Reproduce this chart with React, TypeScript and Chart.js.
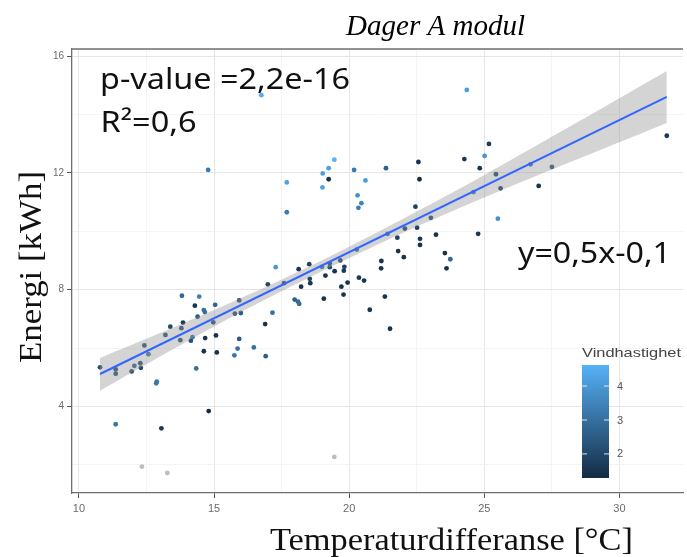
import React, { useEffect, useRef } from 'react';
import { Chart, registerables } from 'chart.js';

Chart.register(...registerables);

// ---- Data ----
const tempDiff = [
  16.75, 14.78, 17.69, 17.69, 24.35, 19.02, 19.24, 19.45, 19.24, 19.01,
  20.18, 20.6, 20.31, 20.45, 20.34, 21.36, 22.56, 22.6, 22.45, 24.26,
  25.17, 25.01, 24.83, 25.43, 25.6, 24.6, 23.02, 22.06, 22.51, 21.42,
  21.78, 22.62, 22.62, 23.21, 24.77, 25.5, 26.71, 27.5, 27.01, 31.75,
  23.54, 23.74, 23.6, 21.81, 22.02, 21.19, 21.18, 20.28, 19.67, 19.82,
  19.8, 19.46, 19.28, 19.28, 18.99, 19.12, 18.52, 18.54, 18.56, 18.13,
  18.22, 17.59, 17.28, 16.99, 17.98, 18.1, 18.15, 19.06, 19.71, 19.79,
  19.94, 20.36, 20.55, 20.76, 21.32, 21.51, 15.93, 15.77, 15.99, 17.16,
  16.89, 16.91, 16.47, 15.93, 15.87, 15.75, 15.04, 14.29, 14.45, 14.62,
  14.66, 14.39, 13.81, 13.85, 13.79, 13.75, 13.38, 13.2, 14.2, 14.14,
  14.34, 14.67, 14.62, 15.07, 15.1, 14.97, 12.42, 12.57, 12.27, 12.29,
  12.05, 11.95, 11.36, 11.36, 10.78, 12.88, 12.86, 14.8, 11.36, 13.05,
];
const energy = [
  14.66, 12.1, 11.67, 10.65, 14.84, 11.98, 12.16, 12.45, 11.78, 11.5,
  12.1, 11.74, 11.23, 10.96, 10.8, 12.16, 12.37, 11.78, 10.84, 12.47,
  12.99, 12.58, 12.16, 11.95, 11.47, 11.34, 10.46, 10.09, 10.12, 9.91,
  9.78, 9.74, 9.53, 9.88, 9.91, 10.43, 12.29, 12.2, 11.55, 13.27,
  9.25, 9.04, 8.73, 9.32, 9.11, 8.98, 8.73, 9.37, 9.0, 8.78,
  8.65, 8.63, 8.9, 8.77, 8.78, 8.48, 8.87, 8.37, 8.22, 8.7,
  8.1, 8.22, 8.77, 8.18, 7.66, 7.59, 7.51, 7.69, 8.1, 7.83,
  8.24, 8.41, 8.31, 7.31, 7.76, 6.66, 7.63, 7.18, 7.2, 7.21,
  6.82, 5.72, 6.02, 6.31, 5.98, 5.75, 7.48, 7.45, 7.76, 7.3,
  7.23, 7.07, 7.79, 6.87, 6.68, 6.27, 6.73, 6.45, 6.37, 6.25,
  5.3, 6.34, 5.89, 6.43, 5.85, 6.88, 6.09, 5.79, 5.48, 5.32,
  5.39, 5.2, 5.27, 5.12, 5.34, 4.85, 4.79, 3.84, 3.39, 3.25,
];
const windSpeed = [
  4.5, 3.3, 4.2, 3.3, 4.1, 4.2, 4.2, 4.6, 1.5, 4.2,
  3.2, 4.1, 3.8, 3.5, 3.3, 2.6, 1.5, 1.4, 1.8, 1.6,
  1.7, 3.9, 1.5, 1.8, 1.6, 3.0, 1.8, 1.6, 1.8, 2.8,
  1.9, 1.6, 1.5, 1.5, 1.6, 3.8, 2.8, 2.2, 1.5, 1.6,
  1.5, 2.8, 1.5, 1.5, 1.5, 1.5, 1.5, 2.8, 1.8, 1.9,
  1.7, 1.5, 2.0, 2.0, 2.8, 1.5, 1.9, 1.9, 1.6, 1.6,
  1.5, 2.0, 4.0, 2.0, 2.6, 2.8, 3.0, 1.5, 1.5, 1.5,
  1.5, 1.7, 1.6, 1.5, 1.5, 1.5, 2.0, 2.0, 2.5, 3.0,
  1.5, 2.6, 3.0, 2.5, 3.0, 3.2, 2.7, 1.6, 3.4, 3.0,
  3.0, 2.4, 2.8, 1.6, 2.0, 2.1, 2.0, 2.0, 3.0, 2.2,
  3.0, 1.5, 1.5, 1.5, 1.5, 2.0, 2.0, 3.0, 2.0, 2.0,
  2.5, 2.0, 2.0, 2.0, 2.2, 3.2, 3.2, 1.3, 3.2, 1.7,
];
// points with missing wind speed
const naTempDiff = [12.33, 13.27, 19.45];
const naEnergy = [1.94, 1.72, 2.27];

// regression line and confidence band
const fitX = [10.78, 31.75];
const fitY = [5.11, 14.6];
const bandX = [10.78, 13, 15, 17, 19.5, 22, 24.6, 28, 31.75];
const bandUpper = [5.66, 6.51, 7.3, 8.13, 9.24, 10.43, 11.72, 13.5, 15.49];
const bandLower = [4.54, 5.71, 6.74, 7.71, 8.86, 9.95, 11.0, 12.3, 13.71];

// axes
const xTickValues = [10, 12.5, 15, 17.5, 20, 22.5, 25, 27.5, 30];
const xMajorTicks = [10, 15, 20, 25, 30];
const yTickValues = [2, 4, 6, 8, 10, 12, 14, 16];
const yMajorTicks = [4, 8, 12, 16];
const xRange = [9.743, 32.35];
const yRange = [1.035, 16.24];

// colour legend
const legendTicks = [2, 3, 4];
const windLimits = [1.29, 4.62];

const titleText = 'Dager A modul';
const xTitle = 'Temperaturdifferanse [°C]';
const yTitle = 'Energi [kWh]';
const legendTitle = 'Vindhastighet';
const pValueText = 'p-value =2,2e-16';
const r2Text = 'R²=0,6';
const eqText = 'y=0,5x-0,1';

const LOW = [19, 43, 67];
const HIGH = [86, 177, 247];
function windColor(v: number): string {
  const t = Math.max(0, Math.min(1, (v - windLimits[0]) / (windLimits[1] - windLimits[0])));
  const c = LOW.map((l, i) => Math.round(l + (HIGH[i] - l) * t));
  return `rgb(${c[0]},${c[1]},${c[2]})`;
}

function fitText(
  ctx: CanvasRenderingContext2D, text: string, x: number, y: number,
  font: string, color: string, width?: number
) {
  ctx.save();
  ctx.font = font;
  ctx.fillStyle = color;
  ctx.textAlign = 'left';
  ctx.textBaseline = 'alphabetic';
  const w = ctx.measureText(text).width;
  const sx = width ? width / w : 1;
  ctx.translate(x, y);
  ctx.scale(sx, 1);
  ctx.fillText(text, 0, 0);
  ctx.restore();
}

const overlayPlugin = {
  id: 'overlay',
  afterDraw(chart: any) {
    const ctx: CanvasRenderingContext2D = chart.ctx;
    const a = chart.chartArea;
    // top panel border
    ctx.save();
    ctx.strokeStyle = '#6e6e6e';
    ctx.lineWidth = 1.3;
    ctx.beginPath();
    ctx.moveTo(a.left, a.top);
    ctx.lineTo(a.right, a.top);
    ctx.stroke();
    ctx.restore();

    // title
    fitText(ctx, titleText, 346, 34.5, 'italic 29px "Liberation Serif"', '#000', 179);
    // x axis title
    fitText(ctx, xTitle, 270, 550, '31px "Liberation Serif"', '#111', 363);
    // y axis title
    ctx.save();
    ctx.translate(41, 363);
    ctx.rotate(-Math.PI / 2);
    fitText(ctx, yTitle, 0, 0, '31px "Liberation Serif"', '#111', 192);
    ctx.restore();

    // annotations
    const sans = '29px "Noto Sans"';
    fitText(ctx, pValueText, 100, 88.5, sans, '#111', 250);
    fitText(ctx, r2Text, 100.5, 131.5, sans, '#111', 96);
    fitText(ctx, eqText, 518, 263, sans, '#111', 153);

    // colour legend
    const bx = 582, bw = 27, bTop = 365, bBot = 478;
    fitText(ctx, legendTitle, 582, 356.5, '13px "Liberation Sans"', '#444', 99);
    const g = ctx.createLinearGradient(0, bBot, 0, bTop);
    g.addColorStop(0, windColor(windLimits[0]));
    g.addColorStop(0.5, windColor((windLimits[0] + windLimits[1]) / 2));
    g.addColorStop(1, windColor(windLimits[1]));
    ctx.save();
    ctx.fillStyle = g;
    ctx.fillRect(bx, bTop, bw, bBot - bTop);
    ctx.strokeStyle = 'rgba(255,255,255,0.85)';
    ctx.lineWidth = 1;
    ctx.font = '11px "Liberation Sans"';
    ctx.fillStyle = '#555';
    ctx.textBaseline = 'middle';
    ctx.textAlign = 'left';
    for (const v of legendTicks) {
      const yy = bBot - ((v - windLimits[0]) / (windLimits[1] - windLimits[0])) * (bBot - bTop);
      ctx.beginPath();
      ctx.moveTo(bx, yy); ctx.lineTo(bx + 5, yy);
      ctx.moveTo(bx + bw - 5, yy); ctx.lineTo(bx + bw, yy);
      ctx.stroke();
      ctx.fillText(String(v), 617, yy + 0.5);
    }
    ctx.restore();
  },
};

export default function App() {
  const ref = useRef<HTMLCanvasElement | null>(null);

  useEffect(() => {
    document.body.style.margin = '0';
    const canvas = ref.current;
    if (!canvas) return;

    const points = tempDiff.map((x, i) => ({ x, y: energy[i] }));
    const pointColors = windSpeed.map(windColor);
    const naPoints = naTempDiff.map((x, i) => ({ x, y: naEnergy[i] }));
    const upper = bandX.map((x, i) => ({ x, y: bandUpper[i] }));
    const lower = bandX.map((x, i) => ({ x, y: bandLower[i] }));
    const fit = fitX.map((x, i) => ({ x, y: fitY[i] }));

    const isMajorX = (v: number) => xMajorTicks.includes(v);
    const isMajorY = (v: number) => yMajorTicks.includes(v);

    const chart = new Chart(canvas, {
      type: 'scatter',
      data: {
        datasets: [
          {
            type: 'scatter',
            data: points,
            backgroundColor: pointColors,
            borderWidth: 0,
            pointRadius: 2.4,
            order: 3,
          },
          {
            type: 'scatter',
            data: naPoints,
            backgroundColor: '#bdbdbd',
            borderWidth: 0,
            pointRadius: 2.4,
            order: 3,
          },
          {
            type: 'line',
            data: upper,
            borderWidth: 0,
            borderColor: 'rgba(0,0,0,0)',
            pointRadius: 0,
            tension: 0.3,
            fill: '+1',
            backgroundColor: 'rgba(153,153,153,0.42)',
            order: 1,
          },
          {
            type: 'line',
            data: lower,
            borderWidth: 0,
            borderColor: 'rgba(0,0,0,0)',
            pointRadius: 0,
            tension: 0.3,
            fill: false,
            order: 1,
          },
          {
            type: 'line',
            data: fit,
            borderColor: '#3366FF',
            borderWidth: 2,
            pointRadius: 0,
            fill: false,
            order: 0,
          },
        ],
      } as any,
      options: {
        animation: false,
        responsive: false,
        events: [],
        layout: { padding: { top: 49, left: 0, right: 0, bottom: 0 } },
        plugins: {
          legend: { display: false },
          tooltip: { enabled: false },
          title: { display: false },
        },
        scales: {
          x: {
            type: 'linear',
            min: xRange[0],
            max: xRange[1],
            afterBuildTicks: (s: any) => { s.ticks = xTickValues.map((v) => ({ value: v })); },
            afterFit: (s: any) => { s.height = 64; },
            ticks: {
              autoSkip: false,
              maxRotation: 0,
              padding: 4,
              color: '#6a6a6a',
              font: { family: '"Liberation Sans"', size: 11 },
              callback: (v: any) => (isMajorX(Number(v)) ? String(v) : ''),
            },
            grid: {
              color: (c: any) => (isMajorX(c.tick?.value) ? '#e6e6e6' : '#f1f1f1'),
              lineWidth: (c: any) => (isMajorX(c.tick?.value) ? 1 : 0.8),
              tickColor: (c: any) => (isMajorX(c.tick?.value) ? '#555' : 'rgba(0,0,0,0)'),
              tickLength: 5,
              tickWidth: 1,
            },
            border: { display: true, color: '#6e6e6e', width: 1.3 },
          },
          y: {
            type: 'linear',
            min: yRange[0],
            max: yRange[1],
            afterBuildTicks: (s: any) => { s.ticks = yTickValues.map((v) => ({ value: v })); },
            afterFit: (s: any) => { s.width = 72; },
            ticks: {
              autoSkip: false,
              padding: 3,
              color: '#6a6a6a',
              font: { family: '"Liberation Sans"', size: 10 },
              callback: (v: any) => (isMajorY(Number(v)) ? String(v) : ''),
            },
            grid: {
              color: (c: any) => (isMajorY(c.tick?.value) ? '#e6e6e6' : '#f1f1f1'),
              lineWidth: (c: any) => (isMajorY(c.tick?.value) ? 1 : 0.8),
              tickColor: (c: any) => (isMajorY(c.tick?.value) ? '#555' : 'rgba(0,0,0,0)'),
              tickLength: 5,
              tickWidth: 1,
            },
            border: { display: true, color: '#6e6e6e', width: 1.3 },
          },
        },
      } as any,
      plugins: [overlayPlugin],
    });

    return () => chart.destroy();
  }, []);

  return (
    <div style={{ width: 687, height: 557, background: '#fff' }}>
      <canvas ref={ref} width={687} height={557} style={{ display: 'block' }} />
    </div>
  );
}
